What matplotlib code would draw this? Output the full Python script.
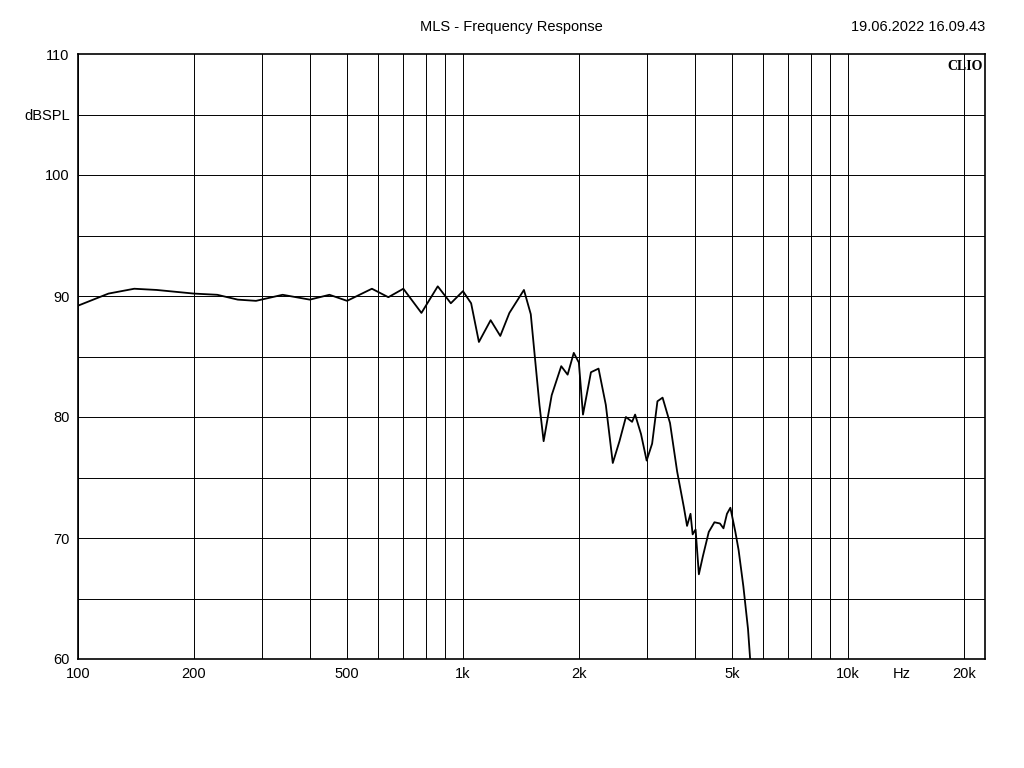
import matplotlib
matplotlib.use("Agg")
import matplotlib.pyplot as plt
import numpy as np

plt.rcParams['font.family'] = ['Liberation Sans', 'DejaVu Sans']

freq = [100,120,140,160,200,230,260,290,340,400,450,500,580,640,700,780,860,930,1000,1050,1100,1180,1250,1320,1440,1500,1580,1620,1700,1800,1870,1940,2000,2050,2150,2250,2350,2450,2550,2650,2750,2800,2900,3000,3100,3200,3300,3450,3600,3750,3820,3900,3950,4020,4100,4200,4350,4500,4650,4750,4850,4950,5100,5200,5350,5500,5600]
spl = [89.2,90.2,90.6,90.5,90.2,90.1,89.7,89.6,90.1,89.7,90.1,89.6,90.6,89.9,90.6,88.6,90.8,89.4,90.4,89.4,86.2,88.0,86.7,88.6,90.5,88.5,81.0,78.0,81.8,84.2,83.5,85.3,84.5,80.2,83.7,84.0,81.0,76.2,78.0,80.0,79.6,80.2,78.6,76.4,77.8,81.3,81.6,79.5,75.5,72.5,71.0,72.0,70.3,70.7,67.0,68.5,70.5,71.3,71.2,70.8,72.0,72.5,70.5,69.0,66.0,62.5,59.0]

xticks = [100,200,500,1000,2000,5000,10000,13800,20000]
xlabels = ["100","200","500","1k","2k","5k","10k","Hz","20k"]
yticks = [60,70,80,90,100,105,110]
ylabels = ["60","70","80","90","100","dBSPL","110"]

fig = plt.figure(figsize=(10.24,7.68), dpi=100)
ax = fig.add_axes([78/1024, 109/768, 907/1024, 605/768])
ax.set_xscale("log")
ax.set_xlim(100, 22700)
ax.set_ylim(60, 110)
grid = [m*10**e for e in (2,3,4) for m in range(1,10) if m*10**e <= 20000]
for g in grid:
    ax.axvline(g, color="black", lw=0.7)
for y in range(65, 110, 5):
    ax.axhline(y, color="black", lw=0.7)
ax.plot(freq, spl, color="black", lw=1.3, clip_on=True)
ax.set_xticks(xticks)
ax.set_xticklabels(xlabels)
ax.xaxis.set_minor_locator(matplotlib.ticker.NullLocator())
ax.set_yticks(yticks)
ax.set_yticklabels(ylabels)
ax.tick_params(length=0, labelsize=10.5, pad=6)
for s in ax.spines.values():
    s.set_linewidth(1.2)
fig.text(511/1024, 1-27/768, "MLS - Frequency Response", ha="center", va="center", fontsize=10.5)
fig.text(985/1024, 1-27/768, "19.06.2022 16.09.43", ha="right", va="center", fontsize=10.5)
ax.text(0.998, 0.99, "CLIO", transform=ax.transAxes, ha="right", va="top",
        fontsize=10, fontweight="bold", family="Liberation Serif")
fig.savefig("out.png", dpi=100)
